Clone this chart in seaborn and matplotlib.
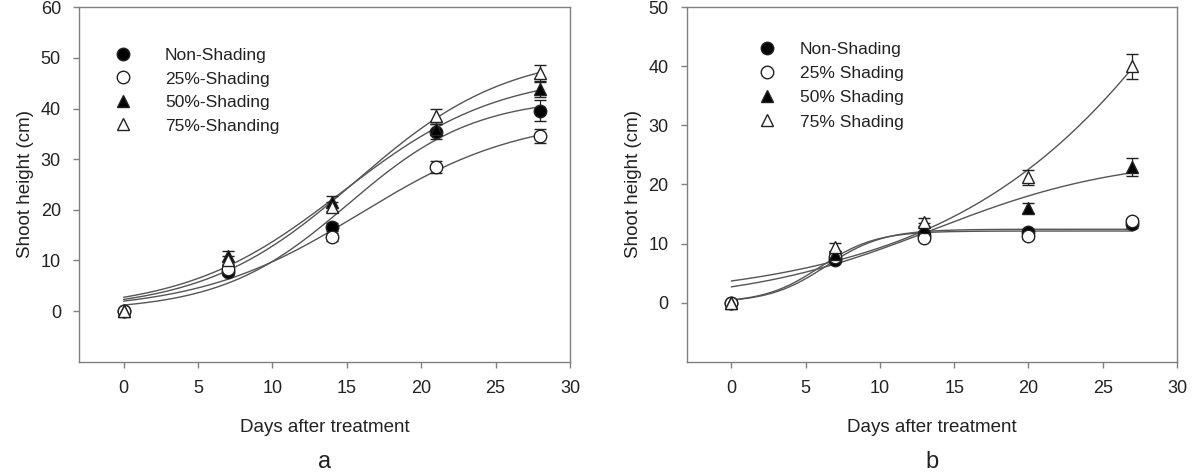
import numpy as np
import pandas as pd
import matplotlib
matplotlib.use("Agg")
import matplotlib.pyplot as plt
import seaborn as sns
from matplotlib.lines import Line2D

sns.set_style("ticks")
plt.rcParams['font.family'] = ['Liberation Sans', 'DejaVu Sans']

# ---- data ----
groups_a = ['Non-Shading', '25%-Shading', '50%-Shading', '75%-Shanding']
days_a = [0, 7, 14, 21, 28]
height_a = {
    'Non-Shading':  [0, 7.8, 16.6, 35.4, 39.6],
    '25%-Shading':  [0, 8.4, 14.6, 28.4, 34.6],
    '50%-Shading':  [0, 10.8, 21.6, 36.0, 43.8],
    '75%-Shanding': [0, 10.0, 20.6, 38.6, 47.0],
}
err_a = {
    'Non-Shading':  [0.3, 0.7, 0.8, 1.5, 2.0],
    '25%-Shading':  [0.3, 0.7, 0.8, 1.2, 1.4],
    '50%-Shading':  [0.3, 1.0, 1.2, 1.0, 1.5],
    '75%-Shanding': [0.3, 0.8, 0.9, 1.3, 1.6],
}

groups_b = ['Non-Shading', '25% Shading', '50% Shading', '75% Shading']
days_b = [0, 7, 13, 20, 27]
height_b = {
    'Non-Shading': [0, 7.3, 11.5, 12.0, 13.3],
    '25% Shading': [0, 7.8, 11.0, 11.2, 13.8],
    '50% Shading': [0, 8.2, 12.8, 16.0, 23.0],
    '75% Shading': [0, 9.4, 13.6, 21.2, 40.0],
}
err_b = {
    'Non-Shading': [0.3, 0.5, 0.5, 0.5, 0.6],
    '25% Shading': [0.3, 0.5, 0.5, 0.5, 0.6],
    '50% Shading': [0.3, 0.6, 0.6, 0.8, 1.5],
    '75% Shading': [0.3, 0.7, 0.7, 1.3, 2.1],
}

# marker styles: (marker, facecolor)
styles = [('o', 'black'), ('o', 'white'), ('^', 'black'), ('^', 'white')]


def fit_sigmoid(x, y):
    # 3-parameter sigmoid a/(1+exp(-(x-x0)/b)), fitted by grid search
    x = np.asarray(x, float)
    y = np.asarray(y, float)
    x0s = np.linspace(-10, 100, 1101)
    bs = np.logspace(-0.5, 1.8, 500)
    X0, B = np.meshgrid(x0s, bs, indexing='ij')
    g = 1.0 / (1.0 + np.exp(-(x[None, None, :] - X0[..., None]) / B[..., None]))
    a = (g * y).sum(-1) / (g * g).sum(-1)
    sse = ((a[..., None] * g - y) ** 2).sum(-1)
    i = np.unravel_index(np.argmin(sse), sse.shape)
    return a[i], X0[i], B[i]


def draw_panel(ax, groups, days, height, err, xmax_curve):
    xs = np.linspace(0, xmax_curve, 200)
    for g in groups:
        a, x0, b = fit_sigmoid(days, height[g])
        curve = pd.DataFrame({'x': xs, 'y': a / (1 + np.exp(-(xs - x0) / b))})
        sns.lineplot(data=curve, x='x', y='y', ax=ax, color='#555555',
                     linewidth=1.0, zorder=2)
    for g, (m, fc) in zip(groups, styles):
        ax.errorbar(days, height[g], yerr=err[g], fmt=m, color='black',
                    mfc=fc, mec='#222222', ms=9, mew=1.0, capsize=4,
                    elinewidth=0.9, capthick=0.9, ecolor='#222222', zorder=3)
    ax.set_xlim(-3, 30)
    ax.set_xticks(range(0, 31, 5))
    ax.set_xlabel('Days after treatment', fontsize=13.5, color='#222222', labelpad=16)
    ax.set_ylabel('Shoot height (cm)', fontsize=13.5, color='#222222', labelpad=5)
    for s in ax.spines.values():
        s.set_color('#808080')
        s.set_linewidth(1.0)
    ax.tick_params(direction='out', length=4, width=1, color='#808080',
                   labelsize=13, labelcolor='#222222', pad=9)


fig = plt.figure(figsize=(11.93, 4.73), dpi=100)
ax_a = fig.add_axes([0.0662, 0.2353, 0.4116, 0.7493])
ax_b = fig.add_axes([0.5756, 0.2353, 0.4110, 0.7493])

draw_panel(ax_a, groups_a, days_a, height_a, err_a, 28)
ax_a.set_ylim(-10, 60)
ax_a.set_yticks(range(0, 61, 10))

draw_panel(ax_b, groups_b, days_b, height_b, err_b, 27)
ax_b.set_ylim(-10, 50)
ax_b.set_yticks(range(0, 51, 10))


def add_legend(ax, labels, anchor, textpad, spacing):
    handles = [Line2D([], [], linestyle='none', marker=m, mfc=fc, mec='#222222',
                      color='black', ms=9, mew=1.0) for m, fc in styles]
    ax.legend(handles, labels, loc='upper left', bbox_to_anchor=anchor,
              frameon=False, fontsize=12.5, labelspacing=spacing,
              handletextpad=textpad, borderaxespad=0, handlelength=1.5,
              labelcolor='#222222')


add_legend(ax_a, groups_a, (0.049, 0.905), 1.66, 0.48)
add_legend(ax_b, groups_b, (0.123, 0.922), 1.15, 0.52)

fig.text(0.272, 0.01, 'a', fontsize=17, ha='center', color='#222222')
fig.text(0.781, 0.01, 'b', fontsize=17, ha='center', color='#222222')

fig.savefig('out.png', dpi=100)
